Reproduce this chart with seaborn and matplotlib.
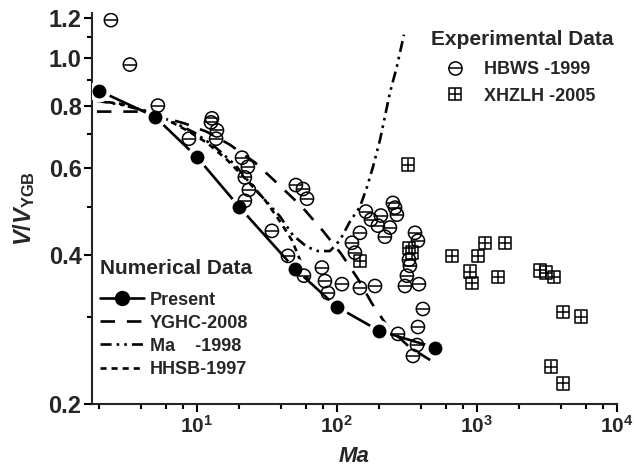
import numpy as np
import pandas as pd
import matplotlib
matplotlib.use("Agg")
import matplotlib.pyplot as plt
import seaborn as sns
from matplotlib.lines import Line2D
from matplotlib.legend_handler import HandlerTuple
from matplotlib.ticker import FixedLocator, FixedFormatter, NullFormatter

# ---------------- data ----------------
present_ma = [2, 5, 10, 20, 50, 100, 200, 500]
present_v = [0.857, 0.76, 0.63, 0.50, 0.375, 0.314, 0.281, 0.26]

yghc_ma = [1.93, 3.79, 5.44, 8.21, 11.8, 17.2, 26.0, 37.9, 56.2, 79.4, 107, 141, 178, 231, 332, 501]
yghc_v = [0.778, 0.778, 0.760, 0.736, 0.708, 0.667, 0.614, 0.556, 0.500, 0.447, 0.402, 0.358, 0.319, 0.286, 0.260, 0.242]

ma98_ma = [1.93, 2.82, 4.25, 6.42, 9.67, 13.4, 18.7, 23.9, 30.6, 39.2, 48.5, 61.1, 73.2, 89.1,
           105, 124, 146, 164, 181, 203, 220, 239, 268, 301]
ma98_v = [0.818, 0.804, 0.782, 0.746, 0.705, 0.661, 0.608, 0.558, 0.516, 0.478, 0.438, 0.415, 0.407, 0.407,
          0.428, 0.467, 0.500, 0.548, 0.602, 0.682, 0.760, 0.849, 0.959, 1.112]

hhsb_ma = [1.93, 2.82, 3.92, 5.91, 8.48, 11.8, 16.4, 22.8, 30.6, 39.2, 47.7, 54.4, 62.1]
hhsb_v = [0.818, 0.807, 0.785, 0.753, 0.713, 0.673, 0.622, 0.565, 0.516, 0.467, 0.428, 0.391, 0.357]

hbws_ma = [2.43, 3.32, 5.26, 8.77, 12.8, 12.6, 13.9, 13.7, 21.0, 23.1, 22.0, 23.5, 22.0, 34.3,
           50.9, 57.2, 61.1, 44.7, 58.1, 78.1, 82.1, 86.2, 108.6, 146, 187, 128, 134.5, 146,
           161, 175, 206, 196, 220, 251, 260, 268, 239, 361, 379, 327, 332, 316, 306, 385,
           411, 379, 273, 373, 349]
hbws_v = [1.19, 0.968, 0.800, 0.686, 0.754, 0.740, 0.713, 0.686, 0.628, 0.602, 0.573, 0.541, 0.514, 0.447,
          0.553, 0.543, 0.519, 0.398, 0.363, 0.377, 0.354, 0.335, 0.349, 0.343, 0.346, 0.423, 0.404, 0.443,
          0.489, 0.471, 0.480, 0.458, 0.435, 0.509, 0.498, 0.482, 0.454, 0.443, 0.427, 0.391, 0.380, 0.363,
          0.346, 0.349, 0.311, 0.286, 0.277, 0.263, 0.250]

xhzlh_ma = [322, 146, 327, 343, 663, 1016, 1140, 1585, 891, 921, 1413, 2818, 3111, 3548, 4115, 5531, 3378, 4115]
xhzlh_v = [0.608, 0.389, 0.413, 0.404, 0.398, 0.398, 0.423, 0.423, 0.370, 0.351, 0.361, 0.372, 0.368, 0.361,
           0.307, 0.300, 0.238, 0.220]

y_major = [0.2, 0.4, 0.6, 0.8, 1.0, 1.2]
y_major_labels = ["0.2", "0.4", "0.6", "0.8", "1.0", "1.2"]
y_minor = [0.3, 0.5, 0.7, 0.9, 1.1]
x_major = [10, 100, 1000, 10000]
x_major_labels = [r"$10^{1}$", r"$10^{2}$", r"$10^{3}$", r"$10^{4}$"]
x_minor = [m * d for d in (1, 10, 100, 1000) for m in (2, 4, 6, 8)]

# ---------------- style ----------------
sns.set_style("ticks")
plt.rcParams["font.family"] = ["Liberation Sans", "DejaVu Sans"]
plt.rcParams["font.weight"] = "bold"
plt.rcParams["mathtext.fontset"] = "custom"
plt.rcParams["mathtext.rm"] = "Liberation Sans:bold"
plt.rcParams["mathtext.bf"] = "Liberation Sans:bold"
plt.rcParams["mathtext.it"] = "Liberation Sans:italic:bold"
plt.rcParams["axes.linewidth"] = 1.5

LW = 1.9
ls_yghc = (0, (5.5, 4.5))
ls_ma = (0, (4.2, 1.9, 1.0, 1.9, 1.0, 1.9))
ls_hhsb = (0, (2.3, 1.9))

fig = plt.figure(figsize=(6.34, 4.73), dpi=100)
ax = fig.add_axes([0.1451, 0.1459, 0.828, 0.8266])
ax.set_xscale("log")
ax.set_yscale("log")

sns.lineplot(x=yghc_ma, y=yghc_v, ax=ax, estimator=None, sort=False, color="black",
             linewidth=LW, linestyle=ls_yghc, zorder=2)
sns.lineplot(x=ma98_ma, y=ma98_v, ax=ax, estimator=None, sort=False, color="black",
             linewidth=LW, linestyle=ls_ma, zorder=2)
sns.lineplot(x=hhsb_ma, y=hhsb_v, ax=ax, estimator=None, sort=False, color="black",
             linewidth=LW, linestyle=ls_hhsb, zorder=2)
sns.lineplot(x=present_ma, y=present_v, ax=ax, estimator=None, sort=False, color="black",
             linewidth=LW, zorder=2.5)
# white halo (gap around symbols), then filled symbols
sns.scatterplot(x=present_ma, y=present_v, ax=ax, color="white", s=250, linewidth=0, zorder=3)
sns.scatterplot(x=present_ma, y=present_v, ax=ax, color="black", s=100, linewidth=0, zorder=3.5)

# Experimental data: circle with horizontal bar, square with cross
sns.scatterplot(x=hbws_ma, y=hbws_v, ax=ax, marker="o", s=9.5 ** 2, color="black",
                facecolors="none", edgecolor="black", linewidth=1.1, zorder=4)
sns.scatterplot(x=hbws_ma, y=hbws_v, ax=ax, marker="_", s=9.5 ** 2, color="black",
                linewidth=1.1, zorder=4)
sns.scatterplot(x=xhzlh_ma, y=xhzlh_v, ax=ax, marker="s", s=9 ** 2, color="black",
                facecolors="none", edgecolor="black", linewidth=1.1, zorder=4)
sns.scatterplot(x=xhzlh_ma, y=xhzlh_v, ax=ax, marker="+", s=9 ** 2, color="black",
                linewidth=1.1, zorder=4)

ax.set_xlim(1.78, 10000)
ax.set_ylim(0.2, 1.23)

ax.yaxis.set_major_locator(FixedLocator(y_major))
ax.yaxis.set_major_formatter(FixedFormatter(y_major_labels))
ax.yaxis.set_minor_locator(FixedLocator(y_minor))
ax.yaxis.set_minor_formatter(NullFormatter())
ax.xaxis.set_major_locator(FixedLocator(x_major))
ax.xaxis.set_major_formatter(FixedFormatter(x_major_labels))
ax.xaxis.set_minor_locator(FixedLocator(x_minor))
ax.xaxis.set_minor_formatter(NullFormatter())

ax.tick_params(axis="both", which="major", direction="out", length=5.5, width=1.5,
               pad=2, color="black")
ax.tick_params(axis="y", which="major", labelsize=17)
ax.tick_params(axis="x", which="major", labelsize=15)
ax.tick_params(axis="both", which="minor", direction="out", length=3.5, width=1.5, color="black")
for lab in ax.get_xticklabels() + ax.get_yticklabels():
    lab.set_fontweight("bold")
sns.despine(ax=ax)

ax.set_xlabel("Ma", fontsize=16, fontstyle="italic", fontweight="bold", labelpad=7)
ax.set_ylabel(r"$\mathit{V/V}_{\mathbf{YGB}}$", fontsize=17, labelpad=8)

# ---------------- legends ----------------
h_present = Line2D([], [], color="black", lw=LW, marker="o", markersize=10,
                   markerfacecolor="black", markeredgecolor="black")
h_yghc = Line2D([], [], color="black", lw=LW, linestyle=ls_yghc)
h_ma = Line2D([], [], color="black", lw=LW, linestyle=ls_ma)
h_hhsb = Line2D([], [], color="black", lw=LW, linestyle=ls_hhsb)

leg1 = ax.legend([h_present, h_yghc, h_ma, h_hhsb],
                 ["Present", "YGHC-2008", "Ma    -1998", "HHSB-1997"],
                 title="Numerical Data", loc="upper left",
                 bbox_to_anchor=(100 / 634, 1 - 259 / 473), bbox_transform=fig.transFigure,
                 frameon=False, prop={"size": 13, "weight": "bold"},
                 title_fontproperties={"size": 15, "weight": "bold"}, alignment="left",
                 handlelength=2.45, handletextpad=0.3, labelspacing=0.34,
                 borderpad=0, borderaxespad=0)
leg1._legend_box.sep = 9.75
ax.add_artist(leg1)

h_hbws = (Line2D([], [], linestyle="none", marker="o", markersize=9.5, markerfacecolor="none",
                 markeredgecolor="black", markeredgewidth=1.1),
          Line2D([], [], linestyle="none", marker="_", markersize=9.5, color="black",
                 markeredgewidth=1.1))
h_xhzlh = (Line2D([], [], linestyle="none", marker="s", markersize=9, markerfacecolor="none",
                  markeredgecolor="black", markeredgewidth=1.1),
           Line2D([], [], linestyle="none", marker="+", markersize=9, color="black",
                  markeredgewidth=1.1))
leg2 = ax.legend([h_hbws, h_xhzlh], ["HBWS -1999", "XHZLH -2005"],
                 handler_map={tuple: HandlerTuple(ndivide=1, pad=0)},
                 title="Experimental Data", loc="upper left",
                 bbox_to_anchor=(431 / 634, 1 - 30 / 473), bbox_transform=fig.transFigure,
                 frameon=False, prop={"size": 13, "weight": "bold"},
                 title_fontproperties={"size": 15, "weight": "bold"}, alignment="left",
                 handlelength=2.7, handletextpad=0.25, labelspacing=0.52,
                 borderpad=0, borderaxespad=0)
leg2._legend_box.sep = 8.9

fig.savefig("out.png", dpi=100)
